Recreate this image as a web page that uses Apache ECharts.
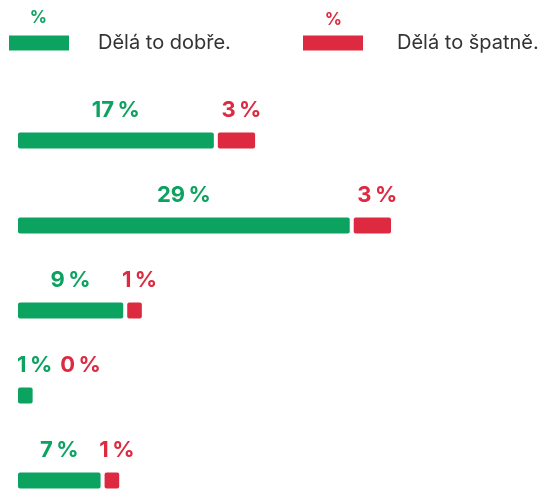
<!DOCTYPE html>
<html><head><meta charset="utf-8">
<script src="https://cdn.jsdelivr.net/npm/echarts@6/dist/echarts.min.js"></script>
<style>html,body{margin:0;padding:0;background:#fff}#c{width:541px;height:490px}</style>
</head><body><div id="c"></div>
<script>
// ---- data ----
const categories = ['1', '2', '3', '4', '5'];
const goodValues = [17, 29, 9, 1, 7];
const badValues = [3, 3, 1, 0, 1];
const seriesNames = ['Dělá to dobře.', 'Dělá to špatně.'];
const unitLabel = '%';

// ---- style ----
const GREEN = '#0ca25f', RED = '#dd2a40', TEXT = '#333333';
const FONT_FAMILY = 'Inter, "Open Sans", sans-serif';
const LABEL_FONT = 'bold 22px ' + FONT_FAMILY;
const PAD = 3.3, GAP = 4, BAR_H = 16, LABEL_DY = -30;
const fmt = v => v + '\u2009' + unitLabel;

const ctx = document.createElement('canvas').getContext('2d');
function textWidth(t) { ctx.font = LABEL_FONT; return ctx.measureText(t).width; }

function geom(api) {
  const idx = api.value(0), good = api.value(1), bad = api.value(2);
  const p0 = api.coord([0, idx]);
  const pg = api.coord([good, idx]);
  const pt = api.coord([good + bad, idx]);
  const gx0 = p0[0], gx1 = pg[0] + PAD;
  const rx0 = gx1 + GAP, rx1 = pt[0] + 2 * PAD + GAP;
  const cy = p0[1];
  const gText = fmt(good), rText = fmt(bad);
  const gw = textWidth(gText), rw = textWidth(rText);
  let gl = (gx0 + gx1) / 2 - gw / 2; if (gl < gx0 - 1) gl = gx0 - 1;
  let rl = (rx0 + rx1) / 2 + 5 - rw / 2; if (rl < gl + gw + 8) rl = gl + gw + 8;
  return { good, bad, gx0, gx1, rx0, rx1, cy, gText, rText, gl, rl };
}

const data = categories.map((c, i) => [i, goodValues[i], badValues[i]]);

function renderGood(params, api) {
  const g = geom(api);
  return { type: 'group', children: [
    { type: 'rect', shape: { x: g.gx0, y: g.cy - BAR_H / 2, width: g.gx1 - g.gx0, height: BAR_H, r: 2 }, style: { fill: GREEN } },
    { type: 'text', style: { text: g.gText, x: g.gl, y: g.cy + LABEL_DY, fill: GREEN, font: LABEL_FONT, align: 'left', verticalAlign: 'middle' } }
  ]};
}
function renderBad(params, api) {
  const g = geom(api);
  const children = [
    { type: 'text', style: { text: g.rText, x: g.rl, y: g.cy + LABEL_DY, fill: RED, font: LABEL_FONT, align: 'left', verticalAlign: 'middle' } }
  ];
  if (g.bad > 0) children.push({ type: 'rect', shape: { x: g.rx0, y: g.cy - BAR_H / 2, width: g.rx1 - g.rx0, height: BAR_H, r: 2 }, style: { fill: RED } });
  return { type: 'group', children };
}

const legendCommon = {
  top: 28, icon: 'rect', itemWidth: 60, itemHeight: 15, selectedMode: false,
  textStyle: { fontSize: 20, color: TEXT, fontFamily: FONT_FAMILY, lineHeight: 15 }
};

const chart = echarts.init(document.getElementById('c'));
chart.setOption({
  animation: false,
  grid: { left: 18, right: 70, top: 140.5, bottom: 9.5 },
  xAxis: { type: 'value', min: 0, max: 40, show: false },
  yAxis: { type: 'category', data: categories, inverse: true, boundaryGap: false, show: false },
  legend: [
    Object.assign({}, legendCommon, { data: [seriesNames[0]], left: 4, textStyle: Object.assign({}, legendCommon.textStyle, { padding: [0, 0, 0, 24] }) }),
    Object.assign({}, legendCommon, { data: [seriesNames[1]], left: 298, textStyle: Object.assign({}, legendCommon.textStyle, { padding: [0, 0, 0, 29] }) })
  ],
  graphic: [
    { type: 'text', style: { text: unitLabel, x: 38.5, y: 18, align: 'center', verticalAlign: 'middle', font: 'bold 17px ' + FONT_FAMILY, fill: GREEN } },
    { type: 'text', style: { text: unitLabel, x: 333.5, y: 19.5, align: 'center', verticalAlign: 'middle', font: 'bold 17px ' + FONT_FAMILY, fill: RED } }
  ],
  series: [
    { name: seriesNames[0], type: 'custom', itemStyle: { color: GREEN }, encode: { x: 1, y: 0 }, data: data, renderItem: renderGood },
    { name: seriesNames[1], type: 'custom', itemStyle: { color: RED }, encode: { x: 2, y: 0 }, data: data, renderItem: renderBad }
  ]
});
</script></body></html>
